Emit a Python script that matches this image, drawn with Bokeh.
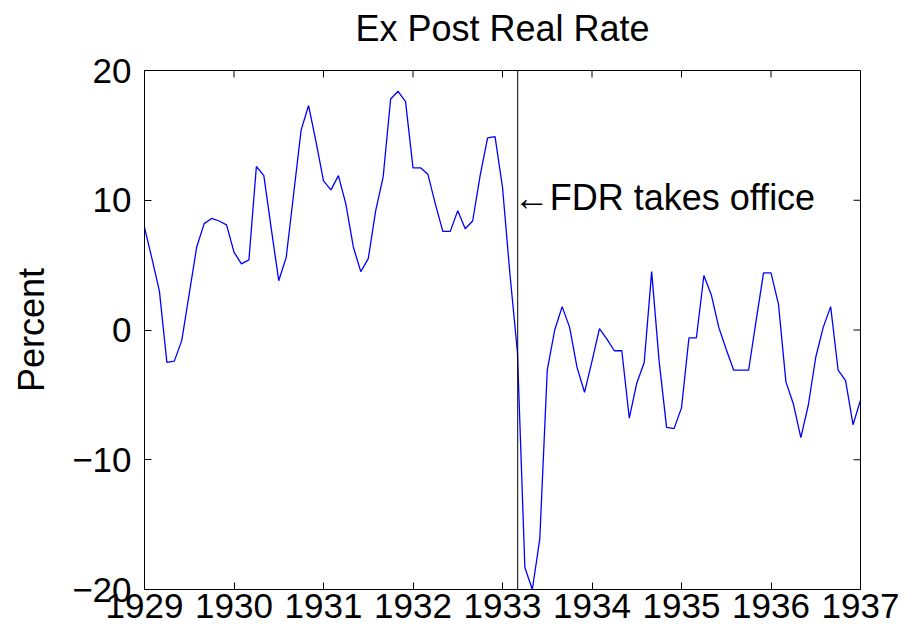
from bokeh.plotting import figure
from bokeh.models import Range1d, FixedTicker, Span, Title
from bokeh.core.properties import value
from bokeh.embed import file_html
from bokeh.resources import INLINE

# Monthly ex post real rate, percent (Jan 1929 .. Jan 1937)
rate_1929 = [7.9, 5.5, 3.0, -2.5, -2.4, -0.8, 2.8, 6.4, 8.2, 8.6, 8.4, 8.1]
rate_1930 = [6.0, 5.1, 5.4, 12.6, 11.9, 7.8, 3.8, 5.6, 10.5, 15.4, 17.3, 14.5]
rate_1931 = [11.5, 10.8, 11.9, 9.7, 6.4, 4.5, 5.5, 9.2, 11.8, 17.8, 18.4, 17.6]
rate_1932 = [12.5, 12.5, 12.0, 9.7, 7.6, 7.6, 9.2, 7.8, 8.4, 11.9, 14.8, 14.9]
rate_1933 = [11.0, 4.3, -1.7, -18.3, -20.0, -16.1, -3.1, 0.0, 1.8, 0.2, -2.9, -4.8]
rate_1934 = [-2.4, 0.1, -0.7, -1.6, -1.6, -6.8, -4.1, -2.5, 4.5, -2.4, -7.5, -7.6]
rate_1935 = [-6.0, -0.6, -0.6, 4.2, 2.7, 0.2, -1.5, -3.1, -3.1, -3.1, 0.7, 4.4]
rate_1936 = [4.4, 2.0, -4.0, -5.7, -8.3, -5.8, -2.1, 0.2, 1.8, -3.1, -3.9, -7.3]
rate_1937 = [-5.4]

x_ticks = [1929, 1930, 1931, 1932, 1933, 1934, 1935, 1936, 1937]
y_ticks = [-20, -10, 0, 10, 20]
y_tick_labels = {-20: "\u221220", -10: "\u221210", 0: "0", 10: "10", 20: "20"}
title_text = "Ex Post Real Rate"
fdr_date = 1933.17
fdr_label = "\u2190FDR takes office"
fdr_label_y = 10.2

rate = (rate_1929 + rate_1930 + rate_1931 + rate_1932 + rate_1933
        + rate_1934 + rate_1935 + rate_1936 + rate_1937)
t = [1929 + i / 12 for i in range(len(rate))]

FONT = "Liberation Sans"
FS_TICK = "35px"
FS_TEXT = "36px"

SHIFT = 13  # canvas is shifted up by this much so the title can sit higher
W, H = 912, 633 + SHIFT
BORDER_L, BORDER_R, BORDER_T, BORDER_B = 144, 52, 70 + SHIFT, 44

x_lo, x_hi = x_ticks[0], x_ticks[-1]
y_lo, y_hi = y_ticks[0], y_ticks[-1]

p = figure(output_backend="svg", toolbar_location=None,
           width=W, height=H, margin=(-SHIFT, 0, 0, 0),
           min_border_left=BORDER_L, min_border_right=BORDER_R,
           min_border_top=BORDER_T, min_border_bottom=BORDER_B,
           x_range=Range1d(x_lo, x_hi), y_range=Range1d(y_lo, y_hi),
           background_fill_color="white", border_fill_color="white")

p.title = Title(text=title_text, align="center", vertical_align="top",
                text_font=FONT, text_font_size=FS_TEXT, text_font_style="normal",
                text_color="black", standoff=40)

p.xgrid.visible = False
p.ygrid.visible = False
p.outline_line_color = "black"
p.outline_line_width = 1

for ax, ticks in ((p.xaxis[0], x_ticks), (p.yaxis[0], y_ticks)):
    ax.ticker = FixedTicker(ticks=ticks)
    ax.minor_tick_line_color = None
    ax.major_tick_in = 7
    ax.major_tick_out = 0
    ax.major_tick_line_color = "black"
    ax.axis_line_color = "black"
    ax.major_label_text_font = FONT
    ax.major_label_text_font_size = FS_TICK
    ax.major_label_text_color = "black"

p.xaxis[0].major_label_standoff = 4
p.yaxis[0].major_label_standoff = 13
p.yaxis[0].major_label_overrides = y_tick_labels
p.yaxis[0].axis_label = "Percent"
p.yaxis[0].axis_label_text_font = FONT
p.yaxis[0].axis_label_text_font_size = FS_TEXT
p.yaxis[0].axis_label_text_font_style = "normal"
p.yaxis[0].axis_label_text_color = "black"
p.yaxis[0].axis_label_standoff = 17

# mirrored inward ticks on the top and right edges
p.ray(x=x_ticks, y=[y_hi] * len(x_ticks), length=7, length_units="screen",
      angle=-90, angle_units="deg", line_color="black", line_width=1)
p.ray(x=[x_hi] * len(y_ticks), y=y_ticks, length=7, length_units="screen",
      angle=180, angle_units="deg", line_color="black", line_width=1)

p.line(t, rate, line_color="#0000ff", line_width=1.3)

p.add_layout(Span(location=fdr_date, dimension="height",
                  line_color="black", line_width=1))
p.text(x=[fdr_date], y=[fdr_label_y], text=[fdr_label],
       text_font=value(FONT), text_font_size=FS_TEXT, text_color="black",
       text_align="left", text_baseline="middle", x_offset=-4)

open("out.html", "w").write(file_html(p, INLINE))
